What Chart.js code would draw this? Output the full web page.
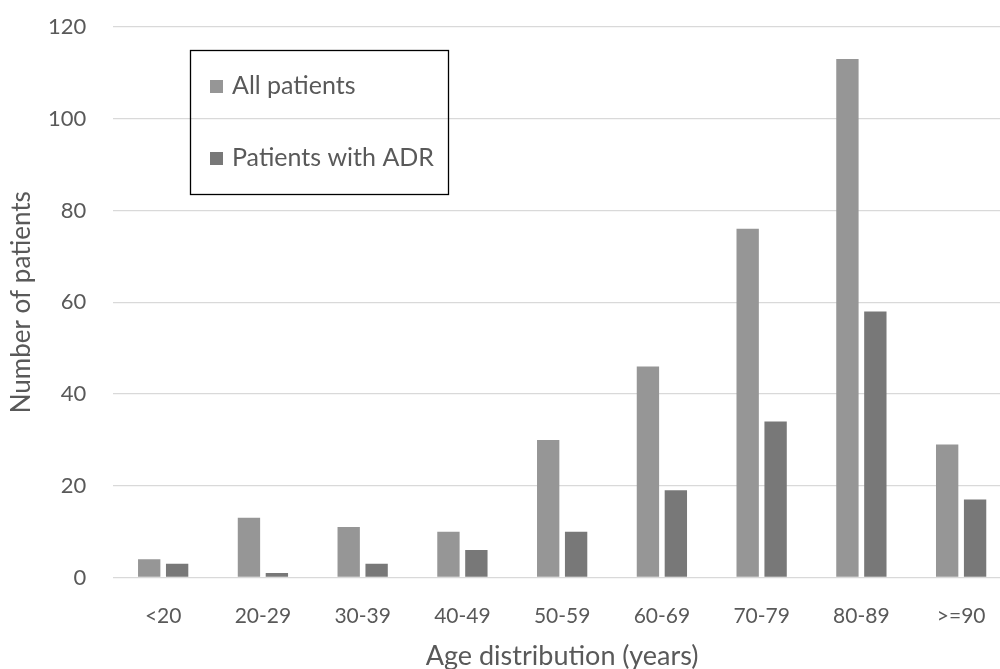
<!DOCTYPE html>
<html>
<head>
<meta charset="utf-8">
<script src="https://cdn.jsdelivr.net/npm/chart.js@4.4.1/dist/chart.umd.min.js"></script>
<style>
  html, body { margin: 0; padding: 0; background: #fff; overflow: hidden; }
  #wrap { width: 1011px; height: 669px; }
</style>
</head>
<body>
<div id="wrap"><canvas id="chart" width="1011" height="669"></canvas></div>
<script>
const ageGroups = ["<20", "20-29", "30-39", "40-49", "50-59", "60-69", "70-79", "80-89", ">=90"]
const allPatients = [4, 13, 11, 10, 30, 46, 76, 113, 29]
const adrPatients = [3, 1, 3, 6, 10, 19, 34, 58, 17]
const seriesNames = ["All patients", "Patients with ADR"]
const seriesColors = ["#969696", "#787878"]

const FONT = "Lato, 'Open Sans', sans-serif"
const TEXT = "#595959"

// boxed legend drawn in the upper left, like the original
const boxLegend = {
  id: 'boxLegend',
  afterDraw(chart) {
    const ctx = chart.ctx
    ctx.save()
    ctx.strokeStyle = '#000'
    ctx.lineWidth = 1.3
    ctx.strokeRect(190.5, 50.5, 258, 144)
    ctx.font = `25px ${FONT}`
    ctx.textBaseline = 'middle'
    const rows = [86, 158]
    chart.data.datasets.forEach((ds, i) => {
      ctx.fillStyle = ds.backgroundColor
      ctx.fillRect(210, rows[i] - 6, 13, 13)
      ctx.fillStyle = TEXT
      ctx.fillText(ds.label, 232, rows[i])
    })
    ctx.restore()
  }
}

new Chart(document.getElementById('chart'), {
  type: 'bar',
  data: {
    labels: ageGroups,
    datasets: [
      { label: seriesNames[0], data: allPatients, backgroundColor: seriesColors[0] },
      { label: seriesNames[1], data: adrPatients, backgroundColor: seriesColors[1] }
    ]
  },
  options: {
    responsive: false,
    animation: false,
    devicePixelRatio: 1,
    categoryPercentage: 0.56,
    barPercentage: 0.8,
    layout: { padding: { top: 27, left: 0, right: 0, bottom: 0 } },
    plugins: {
      legend: { display: false },
      tooltip: { enabled: false }
    },
    scales: {
      x: {
        grid: { display: false },
        border: { display: false },
        ticks: { color: TEXT, font: { family: FONT, size: 21 }, padding: 18 },
        title: {
          display: true,
          text: 'Age distribution (years)',
          color: TEXT,
          font: { family: FONT, size: 27 },
          padding: { top: 0, bottom: -3 }
        },
        afterFit: scale => {
          scale.height = 91.5
          scale.paddingLeft = 0
          scale.paddingRight = 0
        }
      },
      y: {
        min: 0,
        max: 120,
        ticks: { stepSize: 20, color: TEXT, font: { family: FONT, size: 22 }, padding: 27 },
        grid: { color: '#d9d9d9', lineWidth: 1.3, drawTicks: false },
        border: { display: false },
        title: {
          display: true,
          text: 'Number of patients',
          color: TEXT,
          font: { family: FONT, size: 26 },
          padding: { top: 6, bottom: 0 }
        },
        afterFit: scale => {
          scale.width = 113.3
          scale.paddingTop = 0
          scale.paddingBottom = 0
        }
      }
    }
  },
  plugins: [boxLegend]
})
</script>
</body>
</html>
